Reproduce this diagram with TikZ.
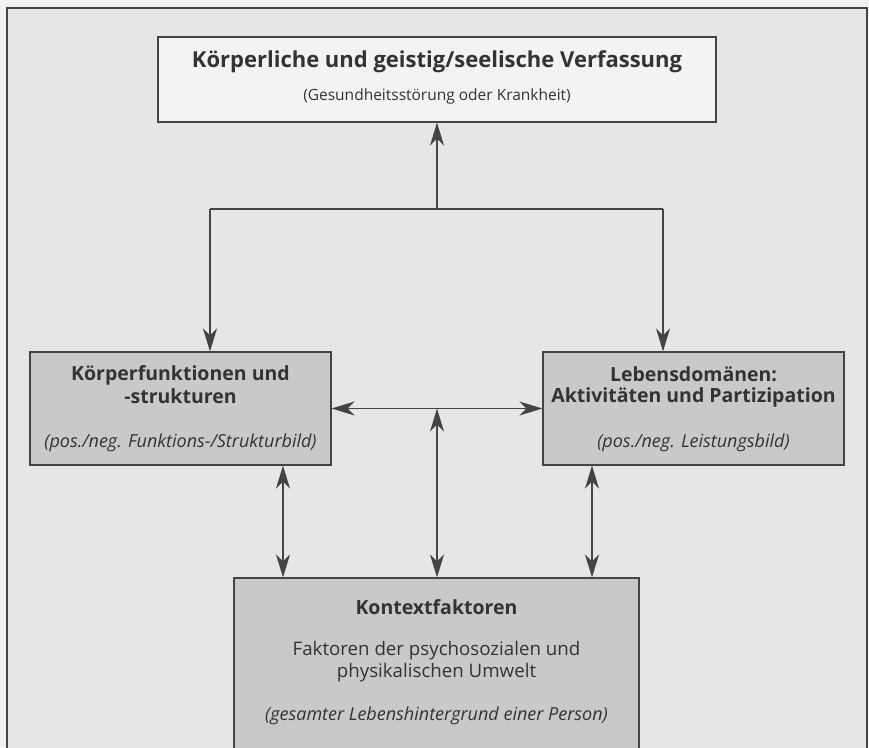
\documentclass[tikz,border=0pt]{standalone}
\usepackage{fontspec}
\setmainfont{Open Sans}
\usetikzlibrary{arrows.meta}
\definecolor{ink}{HTML}{333333}
\definecolor{linec}{HTML}{444444}
\definecolor{pagebg}{HTML}{F1F1F1}
\definecolor{framebg}{HTML}{E6E6E6}
\definecolor{lightbox}{HTML}{F3F3F3}
\definecolor{darkbox}{HTML}{C9C9C9}
\tikzset{
  boxbase/.style={draw=linec, line width=1.1pt, inner sep=0pt, rectangle},
  whitebox/.style={boxbase, fill=lightbox},
  graybox/.style={boxbase, fill=darkbox},
  lbl/.style={text=ink, inner sep=0pt, align=center, text height=.72em, text depth=.22em},
  ttl/.style={lbl, font=\bfseries\fontsize{19.5}{23}\selectfont},
  sub/.style={lbl, font=\fontsize{15.5}{18}\selectfont},
  itl/.style={lbl, font=\itshape\fontsize{18}{21}\selectfont},
  conn/.style={draw=linec, line width=1.8pt},
  tip/.style={-{Stealth[length=23pt,width=14pt,inset=7pt]}},
  bitip/.style={{Stealth[length=23pt,width=14pt,inset=7pt]}-{Stealth[length=23pt,width=14pt,inset=7pt]}}
}
\begin{document}
\begin{tikzpicture}[x=1pt,y=-1pt]
\useasboundingbox (0,0) rectangle (869,747);
\clip (0,0) rectangle (869,747);
\fill[pagebg] (0,0) rectangle (869,747);
\fill[framebg] (7,8) rectangle (867,760);
\draw[draw=linec, line width=1.1pt] (7,760) -- (7,8) -- (867,8) -- (867,760);

% boxes
\node[whitebox, minimum width=558, minimum height=85] (top) at (437,79.5) {};
\node[graybox, minimum width=301, minimum height=113] (left) at (180.5,408.5) {};
\node[graybox, minimum width=301, minimum height=113] (right) at (693.5,408.5) {};
\node[graybox, minimum width=405, minimum height=200] (kon) at (436.5,678) {};

% texts
\node[ttl, font=\bfseries\fontsize{22}{26}\selectfont] (toptitle) at (437,65) {Körperliche und geistig/seelische Verfassung};
\node[sub] (topsub) at (437,98) {(Gesundheitsstörung oder Krankheit)};

\node[ttl] (lt1) at (180.5,378) {Körperfunktionen und};
\node[ttl] (lt2) at (180.5,401) {-strukturen};
\node[itl] (lit) at (180.5,445) {(pos./neg. Funktions-/Strukturbild)};

\node[ttl] (rt1) at (693.5,379) {Lebensdomänen:};
\node[ttl] (rt2) at (693.5,400) {Aktivitäten und Partizipation};
\node[itl] (rit) at (693.5,445) {(pos./neg. Leistungsbild)};

\node[ttl] (kt) at (436.5,612) {Kontextfaktoren};
\node[sub, font=\fontsize{18.7}{22}\selectfont] (ks1) at (436.5,653) {Faktoren der psychosozialen und};
\node[sub, font=\fontsize{18.7}{22}\selectfont] (ks2) at (436.5,675) {physikalischen Umwelt};
\node[itl] (kit) at (436.5,718) {(gesamter Lebenshintergrund einer Person)};

% junction points
\coordinate (jc) at (437,209);
\coordinate (jl) at (210,209);
\coordinate (jr) at (663,209);
\coordinate (jm) at (437,408.5);
\coordinate (bl) at (283,465);
\coordinate (br) at (592,465);

% connectors
\draw[conn, tip] (jc) -- (top.south);
\draw[conn] (jl) -- (jr);
\draw[conn, tip] (jl) -- (jl |- left.north);
\draw[conn, tip] (jr) -- (jr |- right.north);
\draw[conn, bitip] (left.east) -- (right.west);
\draw[conn, bitip] (jm) -- (jm |- kon.north);
\draw[conn, bitip] (bl |- left.south) -- (bl |- kon.north);
\draw[conn, bitip] (br |- right.south) -- (br |- kon.north);
\end{tikzpicture}
\end{document}
